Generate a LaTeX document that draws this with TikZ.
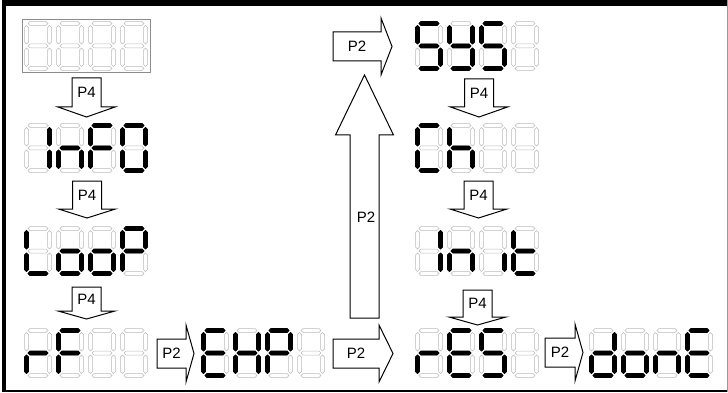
\documentclass[tikz,border=0pt]{standalone}
\usepackage{fontspec}
\setmainfont{Liberation Sans}

% segment centre x / centre y / angle / half length
\def\lcdsega{14/2.5/0/10}
\def\lcdsegb{25.5/13.75/90/9.25}
\def\lcdsegc{25.5/36.25/90/9.25}
\def\lcdsegd{14/47.5/0/10}
\def\lcdsege{2.5/36.25/90/9.25}
\def\lcdsegf{2.5/13.75/90/9.25}
\def\lcdsegg{14/25/0/10}
\def\lcdseg#1/#2/#3/#4\relax#5{%
  \draw[#5,shift={(#1,#2)},rotate=#3] (-#4,0) -- (-#4+2,-2) -- (#4-2,-2)
    -- (#4,0) -- (#4-2,2) -- (-#4+2,2) -- cycle;}

% four unlit digits of a display
\newcommand\lcdrow[1]{%
  \foreach \k in {0,...,3} {
    \begin{scope}[shift={(#1)},xshift=32*\k]
      \foreach \s in {a,b,c,d,e,f,g}
        {\edef\tmp{\csname lcdseg\s\endcsname}\expandafter\lcdseg\tmp\relax{segoff}}
    \end{scope}}}
% lit segments of digit #2 of display #1
\newcommand\lcdon[3]{%
  \begin{scope}[shift={(#1)},xshift=32*#2]
    \foreach \s in {#3}
      {\edef\tmp{\csname lcdseg\s\endcsname}\expandafter\lcdseg\tmp\relax{segon}}
  \end{scope}}

\newcommand\keydown[5]{%
  \draw[blockarrow] (#2-14.5,#3) -- (#2+14.5,#3) -- (#2+14.5,#4) -- (#2+28.5,#4)
    -- (#2,#5) -- (#2-28.5,#4) -- (#2-14.5,#4) -- cycle;
  \node[keylabel] (#1) at (#2,{(#3+#4)/2}) {P4};}
\newcommand\keyright[5]{%
  \draw[blockarrow] (#2,#5-14.5) -- (#3,#5-14.5) -- (#3,#5-28.5) -- (#4,#5)
    -- (#3,#5+28.5) -- (#3,#5+14.5) -- (#2,#5+14.5) -- cycle;
  \node[keylabel] (#1) at ({(#2+#3)/2},#5) {P2};}

\begin{document}
\begin{tikzpicture}[x=1pt,y=-1pt,
    segoff/.style={draw=black!27,line width=0.5pt},
    segon/.style={fill=black,draw=black,line width=0.9pt,line join=round},
    blockarrow/.style={draw=black,fill=white,line width=1pt},
    keylabel/.style={font=\fontsize{15}{15}\selectfont,inner sep=0pt}]
    \useasboundingbox (0,0) rectangle (728,393);

    % frame
    \draw[line width=1.5pt] (2,391) -- (727,391);
    \draw[black!40,line width=1pt] (727,0) -- (727,392);
    \fill (2,0) rectangle (727,6);
    \fill (2,0) rectangle (6,392);

    \coordinate (blank) at (24,21);
    \coordinate (info)  at (24,123);
    \coordinate (loop)  at (24,226);
    \coordinate (rf)    at (24,328);
    \coordinate (exp)   at (201,328);
    \coordinate (sys)   at (415,21);
    \coordinate (ch)    at (415,123);
    \coordinate (init)  at (415,226);
    \coordinate (res)   at (415,328);
    \coordinate (done)  at (589,328);

    % keys
    \keydown{p4a}{86.5}{78}{107}{117}
    \keydown{p4b}{87}{181}{209}{218}
    \keydown{p4c}{86.5}{287}{311}{319}
    \keydown{p4d}{479}{79}{107}{117}
    \keydown{p4e}{478.5}{181}{209}{218}
    \keydown{p4f}{477.5}{290}{317}{325}
    \keyright{p2a}{333}{381}{392}{46.5}
    \keyright{p2b}{157}{186}{194}{353.5}
    \keyright{p2c}{333}{379}{393}{353.5}
    \keyright{p2d}{545}{575}{583}{352.5}
    \draw[blockarrow] (350,318) -- (379,318) -- (379,135) -- (393.5,135)
        -- (364.5,75) -- (335.5,135) -- (350,135) -- cycle;
    \node[keylabel] (p2up) at (366,217) {P2};

    % displays
    \draw[black!45,line width=0.8pt] (22,19.5) rectangle (150,72.5);
    \foreach \d in {blank,info,loop,rf,exp,sys,ch,init,res,done}
        \lcdrow{\d};

    \lcdon{info}{0}{b,c}       \lcdon{info}{1}{c,e,g}
    \lcdon{info}{2}{a,e,f,g}   \lcdon{info}{3}{a,b,c,d,e,f}
    \lcdon{loop}{0}{d,e,f}     \lcdon{loop}{1}{c,d,e,g}
    \lcdon{loop}{2}{c,d,e,g}   \lcdon{loop}{3}{a,b,e,f,g}
    \lcdon{rf}{0}{e,g}         \lcdon{rf}{1}{a,e,f,g}
    \lcdon{exp}{0}{a,d,e,f,g}  \lcdon{exp}{1}{b,c,e,f,g}
    \lcdon{exp}{2}{a,b,e,f,g}
    \lcdon{sys}{0}{a,c,d,f,g}  \lcdon{sys}{1}{b,c,d,f,g}
    \lcdon{sys}{2}{a,c,d,f,g}
    \lcdon{ch}{0}{a,d,e,f}     \lcdon{ch}{1}{c,e,f,g}
    \lcdon{init}{0}{b,c}       \lcdon{init}{1}{c,e,g}
    \lcdon{init}{2}{c}         \lcdon{init}{3}{d,e,f,g}
    \lcdon{res}{0}{e,g}        \lcdon{res}{1}{a,d,e,f,g}
    \lcdon{res}{2}{a,c,d,f,g}
    \lcdon{done}{0}{b,c,d,e,g} \lcdon{done}{1}{c,d,e,g}
    \lcdon{done}{2}{c,e,g}     \lcdon{done}{3}{a,d,e,f,g}
\end{tikzpicture}
\end{document}
